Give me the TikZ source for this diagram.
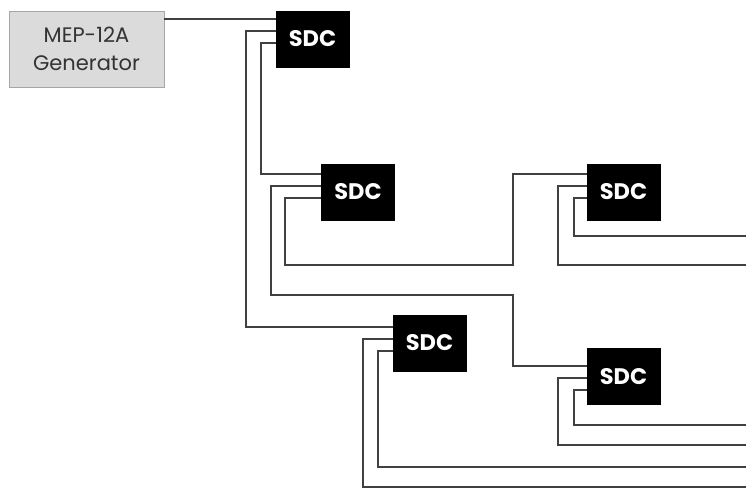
\documentclass[tikz,border=0pt]{standalone}
\usepackage{fontspec}
\setmainfont{Poppins}
\usetikzlibrary{calc}
\begin{document}
\begin{tikzpicture}[x=1pt,y=-1pt,
  sdc/.style={draw=black,fill=black,minimum width=73pt,minimum height=56pt,inner sep=0pt,
    text=white,font=\fontsize{22.5}{22.5}\selectfont\bfseries},
  gen/.style={draw=gray!70,fill=gray!28,minimum width=155pt,minimum height=76pt,inner sep=0pt,
    text=black!80,align=center,font=\fontsize{21}{28}\selectfont},
  wire/.style={draw=black!75,line width=2.1pt}]
\useasboundingbox (0,0) rectangle (746,489);
\node[gen] (gen) at (86.5,49) {MEP-12A\\Generator};
\node[sdc] (s1) at (312.5,39) {SDC};
\node[sdc] (s2) at (358,192) {SDC};
\node[sdc] (s3) at (623.5,192) {SDC};
\node[sdc] (s4) at (429.5,343) {SDC};
\node[sdc] (s5) at (623.5,376.5) {SDC};
% ports
\coordinate (s1a) at ([yshift=-8pt]s1.north west);
\coordinate (s1b) at ([yshift=-20pt]s1.north west);
\coordinate (s1c) at ([yshift=-32pt]s1.north west);
\coordinate (s2a) at ([yshift=-10pt]s2.north west);
\coordinate (s2b) at ([yshift=-22pt]s2.north west);
\coordinate (s2c) at ([yshift=-34pt]s2.north west);
\coordinate (s3a) at ([yshift=-10pt]s3.north west);
\coordinate (s3b) at ([yshift=-22pt]s3.north west);
\coordinate (s3c) at ([yshift=-34pt]s3.north west);
\coordinate (s4a) at ([yshift=-12pt]s4.north west);
\coordinate (s4b) at ([yshift=-24pt]s4.north west);
\coordinate (s4c) at ([yshift=-36pt]s4.north west);
\coordinate (s5a) at ([yshift=-18pt]s5.north west);
\coordinate (s5b) at ([yshift=-30pt]s5.north west);
\coordinate (s5c) at ([yshift=-42pt]s5.north west);
% free ends at right edge
\coordinate (e3b) at (746,265);
\coordinate (e3c) at (746,236);
\coordinate (e4b) at (746,487);
\coordinate (e4c) at (746,467);
\coordinate (e5b) at (746,445);
\coordinate (e5c) at (746,425);
% wires
\draw[wire] (s1a) -- (s1a -| gen.east);
\draw[wire] (s1b) -- ++(-30,0) |- (s4a);
\draw[wire] (s1c) -- ++(-15,0) |- (s2a);
\draw[wire] (s2b) -- ++(-50,0) |- ($(s5a)+(-74,-71)$) |- (s5a);
\draw[wire] (s2c) -- ++(-36,0) |- ($(s3a)+(-74,91)$) |- (s3a);
\draw[wire] (s3b) -- ++(-29,0) |- (e3b);
\draw[wire] (s3c) -- ++(-13,0) |- (e3c);
\draw[wire] (s4b) -- ++(-30,0) |- (e4b);
\draw[wire] (s4c) -- ++(-15,0) |- (e4c);
\draw[wire] (s5b) -- ++(-29,0) |- (e5b);
\draw[wire] (s5c) -- ++(-13,0) |- (e5c);
\end{tikzpicture}
\end{document}
